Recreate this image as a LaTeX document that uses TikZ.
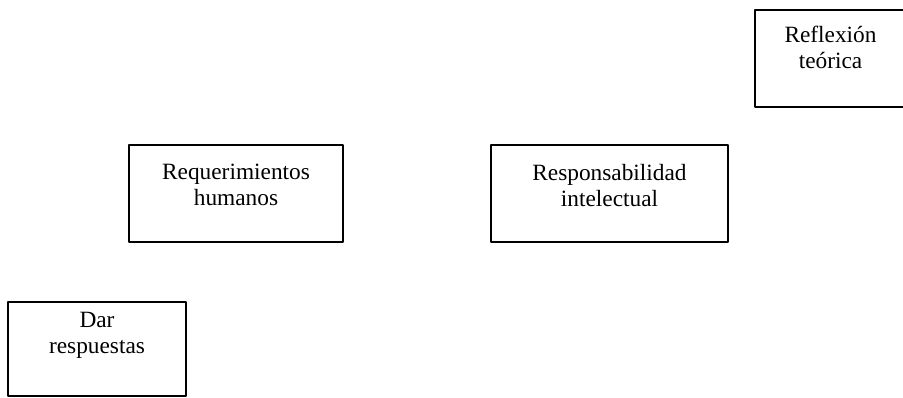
\documentclass[tikz,border=0pt]{standalone}
\usepackage{fontspec}
\setmainfont{Liberation Serif}
\usepackage{tikz}
\usetikzlibrary{positioning}

\tikzset{conceptbox/.style={draw=black,line width=2pt,rectangle,align=center,inner sep=0pt,
  font=\fontsize{17.5}{19.5}\selectfont}}

\begin{document}
\begin{tikzpicture}[line cap=round,line join=round,x=0.75pt,y=0.75pt]
\useasboundingbox (0,0) rectangle (903,398);
\clip (0,0) rectangle (903,398);
\node[conceptbox,minimum width=113.25pt,minimum height=72.75pt,text depth=16.5pt] (reflexion) at (830.5,339.5) {Reflexión\\teórica};
\node[conceptbox,minimum width=160.5pt,minimum height=72.75pt,text depth=12.75pt] (requerimientos) at (236,204.5) {Requerimientos\\humanos};
\node[conceptbox,minimum width=177.75pt,minimum height=72.75pt,text depth=12.75pt] (responsabilidad) at (609.5,204.5) {Responsabilidad\\intelectual};
\node[conceptbox,minimum width=133.5pt,minimum height=70.5pt,text depth=24pt] (respuestas) at (97,49) {Dar\\respuestas};
\end{tikzpicture}
\end{document}
